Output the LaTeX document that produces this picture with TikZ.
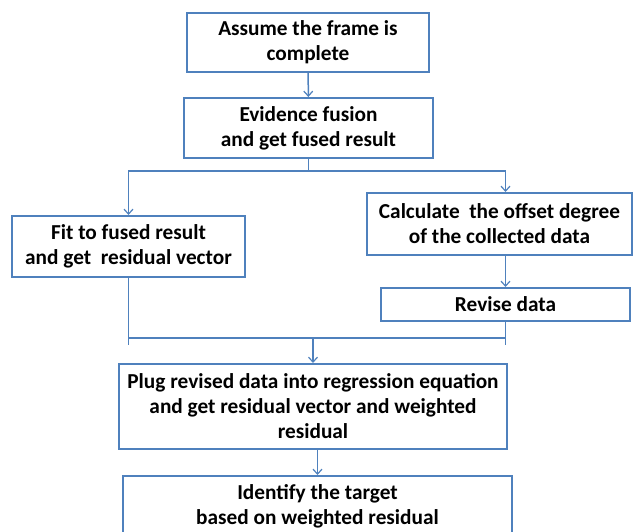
\documentclass[tikz,border=0pt]{standalone}
\usepackage{fontspec}
\setmainfont{Carlito}
\definecolor{fcLine}{HTML}{4F81BD}
\definecolor{fcText}{HTML}{000000}
\usetikzlibrary{arrows.meta}

\begin{document}
\begin{tikzpicture}[x=1pt, y=-1pt,
  stepbox/.style={draw=fcLine, line width=2pt, fill=white, text=fcText,
    inner sep=0pt, align=center, font=\fontsize{21.3}{25}\selectfont\bfseries},
  link/.style={draw=fcLine, line width=1.5pt},
  arr/.style={link, -{Straight Barb[length=5pt, width=9pt, line width=1.2pt]}}
]
  \useasboundingbox (0,0) rectangle (633,532);
  \clip (0,0) rectangle (633,532);

  \node[stepbox, minimum width=242, minimum height=59] (frame) at (308,42.5) {Assume the frame is\\complete};
  \node[stepbox, minimum width=249, minimum height=60] (fusion) at (308.5,128) {Evidence fusion\\and get fused result};
  \node[stepbox, minimum width=233, minimum height=61] (fit) at (128.5,246.5) {Fit to fused result\\and get\ \ residual vector};
  \node[stepbox, minimum width=265, minimum height=62] (offset) at (499.5,224) {Calculate\ \ the offset degree\\of the collected data};
  \node[stepbox, minimum width=249, minimum height=33] (revise) at (505.5,304.5) {Revise data};
  \node[stepbox, minimum width=388, minimum height=85] (plug) at (313,406.5) {Plug revised data into regression equation\\and get residual vector and weighted\\residual};
  \node[stepbox, minimum width=389, minimum height=60] (target) at (317.5,506) {Identify the target\\based on weighted residual};

  % split and merge points
  \coordinate (split) at (308.5,171);
  \coordinate (merge) at (313,338);
  \coordinate (mergeL) at (128.5,345);
  \coordinate (mergeR) at (505.5,345);

  \draw[arr] (frame) -- (fusion);
  \draw[link] (fusion) -- (split);
  \draw[arr] (split) -| (fit);
  \draw[arr] (split) -| (offset.north -| revise.north);
  \draw[arr] (offset.south -| revise.north) -- (revise);
  \draw[link] (fit) -- (mergeL);
  \draw[link] (revise) -- (mergeR);
  \draw[link] (fit.south |- merge) -- (revise.south |- merge);
  \draw[arr] (merge) -- (plug);
  \draw[arr] (plug.south -| target.north) -- (target);
\end{tikzpicture}
\end{document}
